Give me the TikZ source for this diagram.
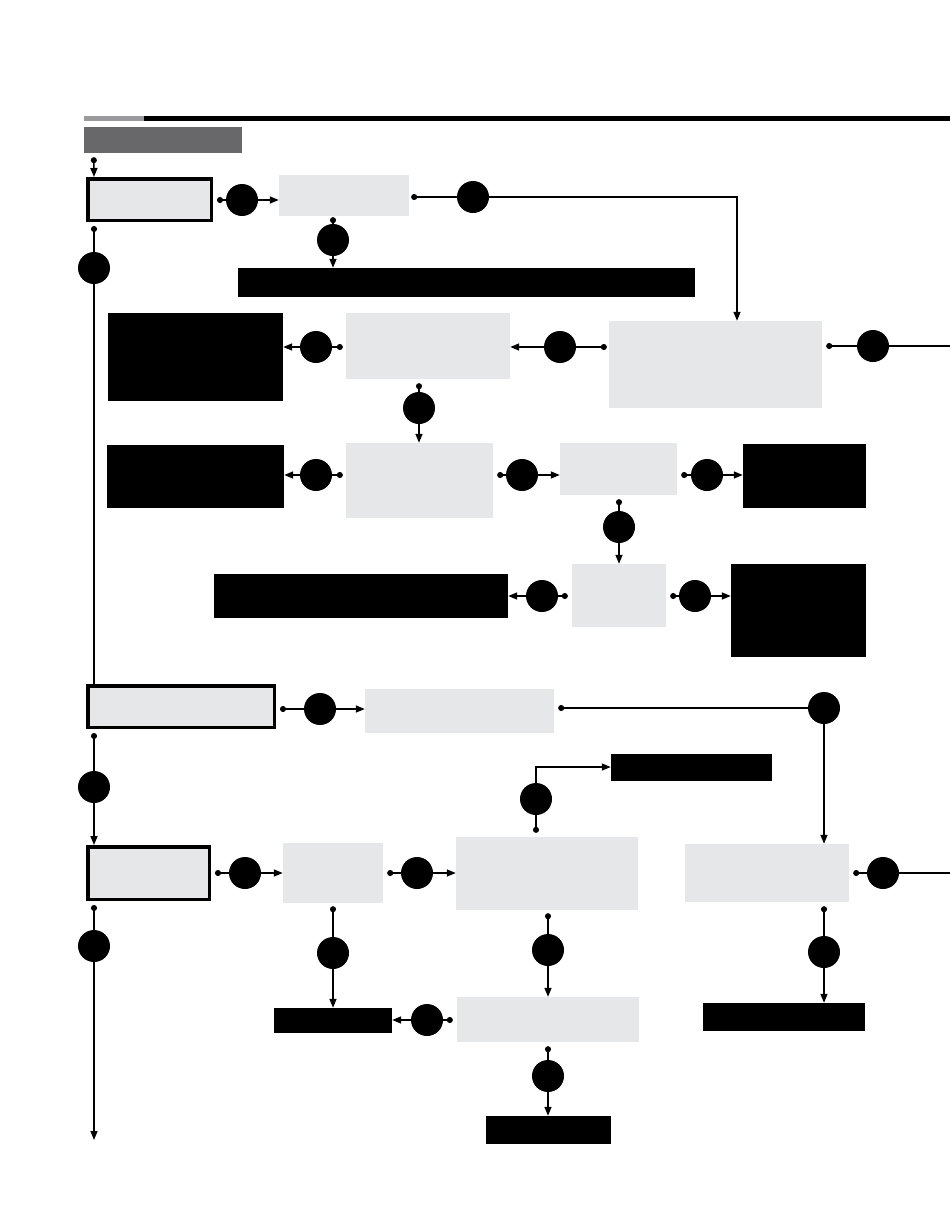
\documentclass[tikz,border=0pt]{standalone}
\usepackage{xcolor}
\usepackage{tikz}
\usetikzlibrary{positioning, arrows.meta}
\definecolor{boxgray}{HTML}{E6E7E8}
\definecolor{hdrgray}{HTML}{68686A}
\definecolor{rulegray}{HTML}{9A9A9C}
\begin{document}
\begin{tikzpicture}[x=1pt,y=-1pt]
						\tikzstyle{box}=[rectangle,fill=boxgray,inner sep=0pt]
						\tikzstyle{frame}=[box,draw=black,line width=3.5pt]
						\tikzstyle{blk}=[rectangle,fill=black,inner sep=0pt]
						\tikzstyle{dot}=[circle,fill=black,minimum size=32pt,inner sep=0pt]
						\tikzstyle{ln}=[line width=1.5pt]
						\tikzstyle{wire}=[ln,{Circle[length=6pt]}-]
						\tikzstyle{go}=[ln,-{Triangle[length=9pt,width=7pt]}]
						\tikzstyle{wirego}=[ln,{Circle[length=6pt]}-{Triangle[length=9pt,width=7pt]}]
						\useasboundingbox (0,0) rectangle (950,1229);
						\fill[rulegray] (84,116) rectangle (144,121);
						\fill[black] (144,116) rectangle (950,121);
						% boxes
						\node[box,fill=hdrgray,minimum width=158pt,minimum height=26pt](h) at (163,140) {};
						\node[frame,minimum width=123.5pt,minimum height=41.5pt](b1) at (149.5,199.5) {};
						\node[box,minimum width=130pt,minimum height=41pt](b2) at (344,195.5) {};
						\node[blk,minimum width=457pt,minimum height=29pt](k0) at (466.5,282.5) {};
						\node[box,minimum width=164pt,minimum height=66pt](b3) at (428,346) {};
						\node[box,minimum width=213pt,minimum height=87pt](b4) at (715.5,364.5) {};
						\node[blk,minimum width=175pt,minimum height=88pt](k1) at (195.5,357) {};
						\node[box,minimum width=147pt,minimum height=75pt](b5) at (419.5,480.5) {};
						\node[blk,minimum width=177pt,minimum height=63pt](k2) at (195.5,476.5) {};
						\node[box,minimum width=117pt,minimum height=52pt](b6) at (618.5,469) {};
						\node[blk,minimum width=123pt,minimum height=64pt](k3) at (804.5,476) {};
						\node[box,minimum width=94pt,minimum height=63pt](b7) at (619,595.5) {};
						\node[blk,minimum width=294pt,minimum height=44pt](k4) at (361,596) {};
						\node[blk,minimum width=135pt,minimum height=93pt](k5) at (798.5,610.5) {};
						\node[frame,minimum width=186.5pt,minimum height=41.5pt](b8) at (181,706.5) {};
						\node[box,minimum width=189pt,minimum height=44pt](b9) at (459.5,711) {};
						\node[frame,minimum width=121.5pt,minimum height=52.5pt](b10) at (148.5,873) {};
						\node[box,minimum width=100pt,minimum height=60pt](b11) at (333,873) {};
						\node[box,minimum width=182pt,minimum height=73pt](b12) at (547,873.5) {};
						\node[blk,minimum width=161pt,minimum height=27pt](k6) at (691.5,767) {};
						\node[box,minimum width=164pt,minimum height=58pt](b13) at (767,873) {};
						\node[blk,minimum width=118pt,minimum height=25pt](k7) at (333,1020.5) {};
						\node[box,minimum width=182pt,minimum height=45pt](b14) at (548,1019.5) {};
						\node[blk,minimum width=125pt,minimum height=28pt](k8) at (548.5,1130) {};
						\node[blk,minimum width=162pt,minimum height=28pt](k9) at (784,1017) {};
						% circles
						\node[dot](c1) at (242,200) {};
						\node[dot](c2) at (473,197) {};
						\node[dot](c3) at (333,240) {};
						\node[dot](c4) at (94,268) {};
						\node[dot](c5) at (560,347) {};
						\node[dot](c6) at (316,347) {};
						\node[dot](c7) at (873,346) {};
						\node[dot](c8) at (419,408) {};
						\node[dot](c9) at (316,475) {};
						\node[dot](c10) at (522,475) {};
						\node[dot](c11) at (707,475) {};
						\node[dot](c12) at (619,527) {};
						\node[dot](c13) at (542,596) {};
						\node[dot](c14) at (695,596) {};
						\node[dot](c15) at (320,709) {};
						\node[dot](c16) at (824,708) {};
						\node[dot](c17) at (94,787) {};
						\node[dot](c18) at (245,873) {};
						\node[dot](c19) at (417,873) {};
						\node[dot](c20) at (536,799) {};
						\node[dot](c21) at (883,873) {};
						\node[dot](c22) at (94,946) {};
						\node[dot](c23) at (333,953) {};
						\node[dot](c24) at (548,950) {};
						\node[dot](c25) at (427,1020) {};
						\node[dot](c26) at (548,1076) {};
						\node[dot](c27) at (824,952) {};
						\coordinate (o1) at (950,346);
						\coordinate (o2) at (950,873);
						\coordinate (o3) at (94,1140);
						% connectors
						\draw[wirego]([shift={(10pt,-4pt)}]h.south west) -- ([xshift=8pt]b1.north west);
						\draw[wire]([xshift=4pt]b1.east |- c1) -- (c1);
						\draw[go](c1) -- (c1 -| b2.west);
						\draw[wire]([xshift=2pt]b2.east |- c2) -- (c2);
						\draw[go](c2) -| ([xshift=21.5pt]b4.north);
						\draw[wire]([yshift=-1pt]b2.south -| c3) -- (c3);
						\draw[go](c3) -- (c3 |- k0.north);
						\draw[wire]([yshift=-4pt]b1.south -| c4) -- (c4);
						\draw[ln](c4) -- (c4 |- b8.north);
						\draw[wire]([xshift=-2pt]b4.west |- c5) -- (c5);
						\draw[go](c5) -- (c5 -| b3.east);
						\draw[wire]([xshift=-3pt]b3.west |- c6) -- (c6);
						\draw[go](c6) -- (c6 -| k1.east);
						\draw[wire]([xshift=4pt]b4.east |- c7) -- (c7);
						\draw[ln](c7) -- (o1);
						\draw[wire]([yshift=-4pt]b3.south -| c8) -- (c8);
						\draw[go](c8) -- (c8 |- b5.north);
						\draw[wire]([xshift=-3pt]b5.west |- c9) -- (c9);
						\draw[go](c9) -- (c9 -| k2.east);
						\draw[wire]([xshift=4pt]b5.east |- c10) -- (c10);
						\draw[go](c10) -- (c10 -| b6.west);
						\draw[wire]([xshift=4pt]b6.east |- c11) -- (c11);
						\draw[go](c11) -- (c11 -| k3.west);
						\draw[wire]([yshift=-4pt]b6.south -| c12) -- (c12);
						\draw[go](c12) -- (c12 |- b7.north);
						\draw[wire]([xshift=-4pt]b7.west |- c13) -- (c13);
						\draw[go](c13) -- (c13 -| k4.east);
						\draw[wire]([xshift=4pt]b7.east |- c14) -- (c14);
						\draw[go](c14) -- (c14 -| k5.west);
						\draw[wire]([xshift=4pt]b8.east |- c15) -- (c15);
						\draw[go](c15) -- (c15 -| b9.west);
						\draw[wire]([xshift=4pt]b9.east |- c16) -- (c16);
						\draw[go](c16) -- (c16 |- b13.north);
						\draw[wire]([yshift=-4pt]b8.south -| c17) -- (c17);
						\draw[go](c17) -- (c17 |- b10.north);
						\draw[wire]([xshift=4pt]b10.east |- c18) -- (c18);
						\draw[go](c18) -- (c18 -| b11.west);
						\draw[wire]([xshift=4pt]b11.east |- c19) -- (c19);
						\draw[go](c19) -- (c19 -| b12.west);
						\draw[wire]([yshift=4pt]b12.north -| c20) -- (c20);
						\draw[go](c20) |- (k6.west);
						\draw[wire]([xshift=4pt]b13.east |- c21) -- (c21);
						\draw[ln](c21) -- (o2);
						\draw[wire]([yshift=-4pt]b10.south -| c22) -- (c22);
						\draw[go](c22) -- (o3);
						\draw[wire]([yshift=-3pt]b11.south -| c23) -- (c23);
						\draw[go](c23) -- (c23 |- k7.north);
						\draw[wire]([yshift=-3pt]b12.south -| c24) -- (c24);
						\draw[go](c24) -- (c24 |- b14.north);
						\draw[wire]([xshift=-4pt]b14.west |- c25) -- (c25);
						\draw[go](c25) -- (c25 -| k7.east);
						\draw[wire]([yshift=-4pt]b14.south -| c26) -- (c26);
						\draw[go](c26) -- (c26 |- k8.north);
						\draw[wire]([yshift=-4pt]b13.south -| c27) -- (c27);
						\draw[go](c27) -- (c27 |- k9.north);
					\end{tikzpicture}
\end{document}
